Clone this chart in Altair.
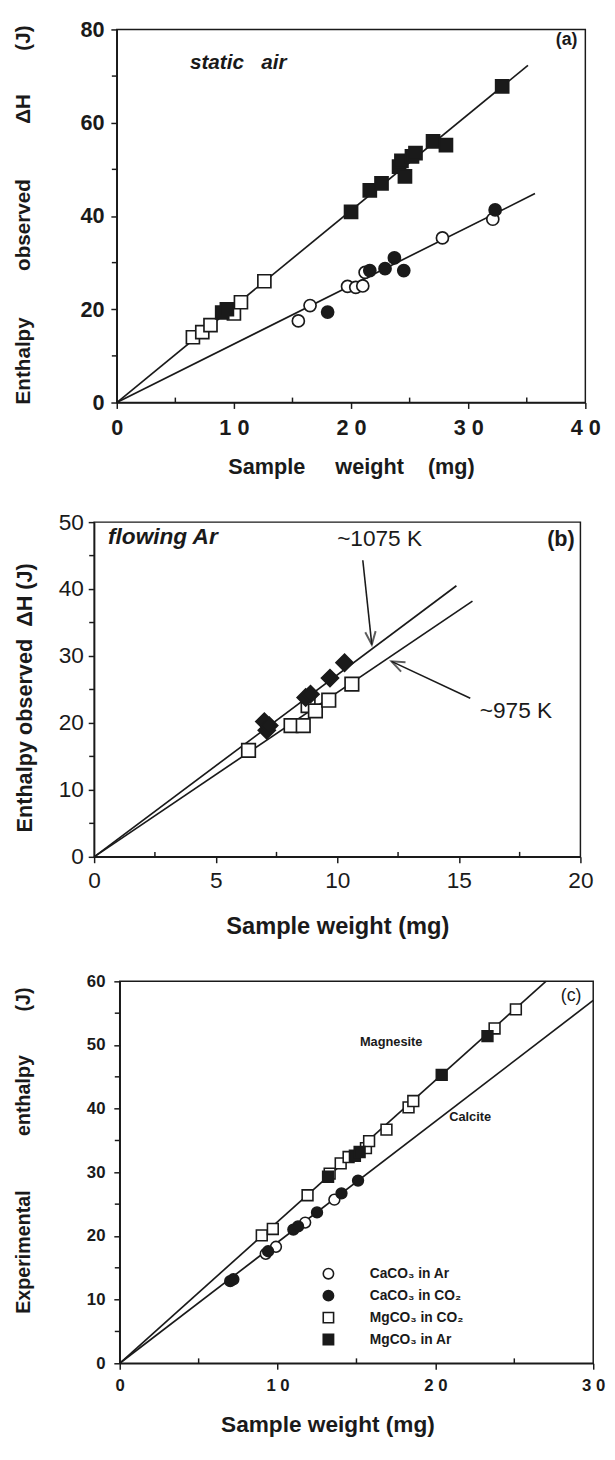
import altair as alt
import pandas as pd

NB = '\u00a0'
FONT = 'Liberation Sans'
INK = '#1a1a1a'


def sp(n):
    return NB * n


# ---------------- Panel (a): static air ----------------
a_mg_open_w = [6.5, 7.3, 8.0, 10.0, 10.6, 12.6]
a_mg_open_h = [14.0, 15.1, 16.6, 19.1, 21.5, 26.0]
a_mg_fill_w = [9.0, 9.4, 20.0, 21.6, 22.6, 24.1, 24.3, 24.6, 25.2, 25.5, 27.0, 28.1, 32.9]
a_mg_fill_h = [19.3, 20.0, 40.9, 45.5, 47.0, 50.6, 51.8, 48.5, 52.8, 53.5, 56.0, 55.2, 67.8]
a_ca_open_w = [15.5, 16.5, 19.7, 20.4, 21.0, 21.2, 27.8, 32.1]
a_ca_open_h = [17.5, 20.8, 24.9, 24.7, 25.0, 27.9, 35.3, 39.3]
a_ca_fill_w = [18.0, 21.6, 22.9, 23.7, 24.5, 32.3]
a_ca_fill_h = [19.4, 28.3, 28.7, 31.0, 28.3, 41.3]
a_fit_w0 = [0, 0]
a_fit_h0 = [0, 0]
a_fit_w1 = [35.1, 35.7]
a_fit_h1 = [72.3, 44.8]
a_x_ticks = [0, 10, 20, 30, 40]
a_x_minor = [5, 15, 25, 35]
a_y_ticks = [0, 20, 40, 60, 80]
a_y_minor = [10, 30, 50, 70]
a_ytitle_words = ['Enthalpy', 'observed', 'ΔH', '(J)']

# ---------------- Panel (b): flowing Ar ----------------
b_hi_w = [7.0, 7.1, 7.2, 8.7, 8.9, 9.7, 10.3]
b_hi_h = [20.2, 18.9, 19.6, 23.8, 24.3, 26.7, 29.0]
b_lo_w = [6.35, 8.1, 8.6, 8.8, 9.1, 9.65, 10.6]
b_lo_h = [15.9, 19.6, 19.6, 22.6, 21.8, 23.4, 25.8]
b_fit_w0 = [0, 0]
b_fit_h0 = [0, 0]
b_fit_w1 = [14.9, 15.56]
b_fit_h1 = [40.5, 38.2]
b_x_ticks = [0, 5, 10, 15, 20]
b_x_minor = [2.5, 7.5, 12.5, 17.5]
b_y_ticks = [0, 10, 20, 30, 40, 50]
b_y_minor = [5, 15, 25, 35, 45]
b_arrow_w0 = [11.05, 15.47]
b_arrow_h0 = [44.3, 23.7]
b_arrow_w1 = [11.42, 12.23]
b_arrow_h1 = [31.7, 29.2]

# ---------------- Panel (c) ----------------
c_series = ['CaCO₃ in Ar', 'CaCO₃ in CO₂', 'MgCO₃ in CO₂', 'MgCO₃ in Ar']
c_ca_ar_w = [9.25, 9.9, 11.75, 13.6]
c_ca_ar_h = [17.2, 18.3, 22.1, 25.7]
c_ca_co2_w = [7.0, 7.2, 9.4, 11.0, 11.3, 12.5, 14.05, 15.1]
c_ca_co2_h = [12.9, 13.2, 17.6, 21.0, 21.5, 23.7, 26.7, 28.7]
c_mg_co2_w = [9.0, 9.7, 11.9, 13.3, 14.0, 14.5, 15.6, 15.8, 16.9, 18.3, 18.6, 23.75, 25.1]
c_mg_co2_h = [20.1, 21.1, 26.4, 29.8, 31.4, 32.4, 33.8, 34.9, 36.7, 40.2, 41.2, 52.6, 55.6]
c_mg_ar_w = [13.2, 14.9, 15.2, 20.4, 23.3]
c_mg_ar_h = [29.3, 32.6, 33.2, 45.3, 51.4]
c_fit_w0 = [0, 0]
c_fit_h0 = [0, 0]
c_fit_w1 = [27.0, 30.0]
c_fit_h1 = [60.0, 57.0]
c_x_ticks = [0, 10, 20, 30]
c_x_minor = [5, 15, 25]
c_y_ticks = [0, 10, 20, 30, 40, 50, 60]
c_y_minor = [5, 15, 25, 35, 45, 55]
c_ytitle_words = ['Experimental', 'enthalpy', '(J)']

SPACED = "join(split(datum.label, ''), ' ')"


class Panel:
    def __init__(self, xmax, ymax, H, xaxis, yaxis):
        self.xs = alt.Scale(domain=[0, xmax], nice=False, zero=True)
        self.ys = alt.Scale(domain=[0, ymax], nice=False, zero=True)
        self.H = H
        self.xa = xaxis
        self.ya = yaxis

    def X(self, f):
        return alt.X(f, scale=self.xs, axis=self.xa, title=None)

    def Y(self, f):
        return alt.Y(f, scale=self.ys, axis=self.ya, title=None)

    def fit_lines(self, w0, h0, w1, h1):
        rows = []
        for i in range(len(w0)):
            rows.append({'w': w0[i], 'h': h0[i], 'k': i})
            rows.append({'w': w1[i], 'h': h1[i], 'k': i})
        return alt.Chart(pd.DataFrame(rows)).mark_line(color=INK, strokeWidth=1.7).encode(
            x=self.X('w:Q'), y=self.Y('h:Q'), detail='k:N')

    def pts(self, w, h, shape, fill, size, sw=1.7):
        return alt.Chart(pd.DataFrame({'w': w, 'h': h})).mark_point(
            shape=shape, filled=True, fill=fill, stroke=INK, strokeWidth=sw,
            size=size, opacity=1).encode(x=self.X('w:Q'), y=self.Y('h:Q'))

    def minor_x(self, vals, ln=5):
        return alt.Chart(pd.DataFrame({'w': vals})).mark_rule(color=INK, strokeWidth=1.5).encode(
            x=self.X('w:Q'), y=alt.value(self.H), y2=alt.value(self.H - ln))

    def minor_y(self, vals, ln=5):
        return alt.Chart(pd.DataFrame({'h': vals})).mark_rule(color=INK, strokeWidth=1.5).encode(
            y=self.Y('h:Q'), x=alt.value(0), x2=alt.value(-ln))

    def label(self, w, h, t, **kw):
        base = dict(font=FONT, color=INK)
        base.update(kw)
        return alt.Chart(pd.DataFrame({'w': [w], 'h': [h], 't': [t]})).mark_text(**base).encode(
            x=self.X('w:Q'), y=self.Y('h:Q'), text='t:N')


def ytitle_word(text, px, py, size):
    # one word of a rotated y-axis title, placed in pixels left of the plot
    return alt.Chart(pd.DataFrame({'t': [text]})).mark_text(
        angle=270, align='center', baseline='middle', font=FONT, fontSize=size,
        fontWeight='bold', color=INK).encode(x=alt.value(px), y=alt.value(py), text='t:N')


def spacer(w):
    return alt.Chart(pd.DataFrame({'v': [0]})).mark_point(opacity=0).encode(
        x=alt.value(0), y=alt.value(0)).properties(
        width=w, height=10, view=alt.ViewBackground(stroke='transparent'))


def axis(**kw):
    base = dict(grid=False, domainColor=INK, domainWidth=1.5, tickColor=INK, tickWidth=1.5,
                labelColor=INK, titleColor=INK, labelFont=FONT, titleFont=FONT,
                labelFlush=False, labelOverlap=False, titleFontWeight='bold')
    base.update(kw)
    return alt.Axis(**base)


# ---------- panel a ----------
AW, AH = 476, 379
ax_x = axis(values=a_x_ticks, labelExpr=SPACED, tickSize=6, labelPadding=9,
            labelFontSize=22, labelFontWeight='bold',
            title='Sample' + sp(5) + 'weight' + sp(4) + '(mg)', titleFontSize=22, titlePadding=19)
ax_y = axis(values=a_y_ticks, tickSize=6, labelPadding=7, labelFontSize=22, labelFontWeight='bold',
            title=None)
pa = Panel(40, 80, AH, ax_x, ax_y)
a_title_y = [336.7, 198.7, 80.7, 8.7]
panel_a = alt.layer(
    pa.fit_lines(a_fit_w0, a_fit_h0, a_fit_w1, a_fit_h1),
    pa.minor_x(a_x_minor), pa.minor_y(a_y_minor),
    pa.pts(a_mg_open_w, a_mg_open_h, 'square', 'white', 175),
    pa.pts(a_mg_fill_w, a_mg_fill_h, 'square', INK, 175),
    pa.pts(a_ca_open_w, a_ca_open_h, 'circle', 'white', 150),
    pa.pts(a_ca_fill_w, a_ca_fill_h, 'circle', INK, 150),
    pa.label(6.25, 72.7, 'static' + sp(3) + 'air', align='left', baseline='middle',
             fontSize=21, fontWeight='bold', fontStyle='italic'),
    pa.label(38.4, 77.8, '(a)', align='center', baseline='middle', fontSize=18, fontWeight='bold'),
    *[ytitle_word(t, -94.6, yy, 21) for t, yy in zip(a_ytitle_words, a_title_y)],
).properties(width=AW, height=AH)

# ---------- panel b ----------
BW, BH = 494, 340
bx_x = axis(values=b_x_ticks, tickSize=6, labelPadding=7, labelFontSize=23,
            title='Sample weight (mg)', titleFontSize=24, titlePadding=23)
bx_y = axis(values=b_y_ticks, tickSize=6, labelPadding=5, labelFontSize=23,
            title='Enthalpy observed' + sp(2) + 'ΔH (J)', titleFontSize=22,
            titleX=-71, titleY=178, titleBaseline='middle')
pb = Panel(20, 50, BH, bx_x, bx_y)
arrow_df = pd.DataFrame({'w': b_arrow_w0, 'h': b_arrow_h0, 'w1': b_arrow_w1, 'h1': b_arrow_h1})
arrows = alt.Chart(arrow_df).mark_rule(color=INK, strokeWidth=1.6).encode(
    x=pb.X('w:Q'), y=pb.Y('h:Q'), x2='w1:Q', y2='h1:Q')
VHEAD = 'M -0.4 -1 L 0 0 L 0.4 -1'


def head(i, ang):
    return alt.Chart(pd.DataFrame({'w': [b_arrow_w1[i]], 'h': [b_arrow_h1[i]]})).mark_point(
        shape=VHEAD, size=700, angle=ang, filled=False, stroke=INK, strokeWidth=2).encode(
        x=pb.X('w:Q'), y=pb.Y('h:Q'))


panel_b = alt.layer(
    pb.fit_lines(b_fit_w0, b_fit_h0, b_fit_w1, b_fit_h1),
    pb.minor_x(b_x_minor), pb.minor_y(b_y_minor),
    pb.pts(b_lo_w, b_lo_h, 'square', 'white', 190),
    pb.pts(b_hi_w, b_hi_h, 'diamond', INK, 300),
    arrows, head(0, 354), head(1, 115),
    pb.label(0.57, 47.8, 'flowing Ar', align='left', baseline='middle',
             fontSize=23, fontWeight='bold', fontStyle='italic'),
    pb.label(11.74, 47.5, '~1075 K', align='center', baseline='middle', fontSize=23),
    pb.label(17.35, 21.8, '~975 K', align='center', baseline='middle', fontSize=23),
    pb.label(19.2, 47.5, '(b)', align='center', baseline='middle', fontSize=22, fontWeight='bold'),
).properties(width=BW, height=BH)

# ---------- panel c ----------
CW, CH = 481, 388
cx_x = axis(values=c_x_ticks, labelExpr=SPACED, tickSize=6, labelPadding=9, labelFontSize=17,
            labelFontWeight='bold', title='Sample weight (mg)', titleFontSize=23,
            titlePadding=20, titleX=211)
cx_y = axis(values=c_y_ticks, tickSize=6, labelPadding=9, labelFontSize=17, labelFontWeight='bold',
            title=None)
pc = Panel(30, 60, CH, cx_x, cx_y)
c_title_y = [275, 116, 18.5]

c_rows = []
for name, ws, hs in zip(c_series, [c_ca_ar_w, c_ca_co2_w, c_mg_co2_w, c_mg_ar_w],
                        [c_ca_ar_h, c_ca_co2_h, c_mg_co2_h, c_mg_ar_h]):
    for w, h in zip(ws, hs):
        c_rows.append({'w': w, 'h': h, 's': name})
c_df = pd.DataFrame(c_rows)
c_legend = alt.Legend(orient='none', legendX=321, legendY=290, title=None, padding=0,
                      labelFont=FONT, labelFontSize=14, labelFontWeight='bold', labelColor=INK,
                      symbolSize=110, symbolStrokeWidth=1.6, symbolStrokeColor=INK,
                      rowPadding=4.3, labelOffset=35)
c_points = alt.Chart(c_df).mark_point(filled=True, strokeWidth=1.6, size=120, opacity=1).encode(
    x=pc.X('w:Q'), y=pc.Y('h:Q'),
    shape=alt.Shape('s:N', scale=alt.Scale(domain=c_series, range=['circle', 'circle', 'square', 'square']),
                    legend=c_legend),
    fill=alt.Fill('s:N', scale=alt.Scale(domain=c_series, range=['white', INK, 'white', INK]),
                  legend=c_legend),
    stroke=alt.Stroke('s:N', scale=alt.Scale(domain=c_series, range=[INK, INK, INK, INK]),
                      legend=c_legend))

panel_c = alt.layer(
    pc.fit_lines(c_fit_w0, c_fit_h0, c_fit_w1, c_fit_h1),
    pc.minor_x(c_x_minor), pc.minor_y(c_y_minor),
    c_points,
    pc.label(17.2, 50.4, 'Magnesite', align='center', baseline='middle', fontSize=13, fontWeight='bold'),
    pc.label(22.2, 38.7, 'Calcite', align='center', baseline='middle', fontSize=13, fontWeight='bold'),
    pc.label(28.6, 57.7, '(c)', align='center', baseline='middle', fontSize=18),
    *[ytitle_word(t, -97, yy, 20) for t, yy in zip(c_ytitle_words, c_title_y)],
).properties(width=CW, height=CH)

row_a = alt.hconcat(spacer(4.5), panel_a, spacing=0)
row_b = alt.hconcat(spacer(6), panel_b, spacing=0)
row_c = alt.hconcat(spacer(7), panel_c, spacing=0)

chart = alt.vconcat(row_a, row_b, row_c, spacing=32.5).resolve_scale(
    shape='independent', fill='independent', stroke='independent'
).properties(
    padding={'left': -6.5, 'top': -1.7, 'right': 1, 'bottom': 8},
    background='white'
).configure_view(stroke=INK, strokeWidth=1.5)

chart.save('out.html', embed_options={'renderer': 'svg', 'actions': False})
